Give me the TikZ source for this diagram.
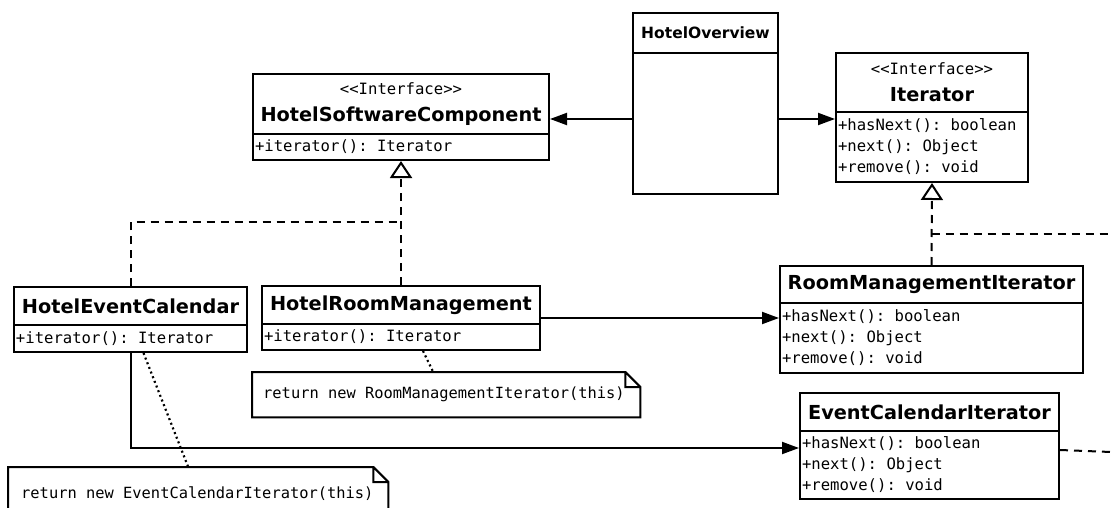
\documentclass[tikz,border=0pt]{standalone}
\usepackage{fontspec}
\newfontfamily\umlsans{DejaVu Sans}
\newfontfamily\umlmono{DejaVu Sans Mono}
\usepackage{tikz}
\usetikzlibrary{arrows.meta,positioning}

\begin{document}
\begin{tikzpicture}[x=1pt,y=-1pt,
    box/.style={draw,line width=2pt,anchor=north west,inner sep=0pt},
    title/.style={box,font=\umlsans\bfseries\fontsize{19.3}{23}\selectfont,align=center},
    monospace/.style={execute at begin node={\frenchspacing\spaceskip=0.602em\xspaceskip=0.602em}},
    ops/.style={box,monospace,font=\umlmono\fontsize{15.6}{21}\selectfont,align=left,inner xsep=2pt},
    note/.style={monospace,anchor=north west,inner xsep=11pt,inner ysep=0pt,align=left,font=\umlmono\fontsize{15.4}{19}\selectfont},
    assoc/.style={line width=2pt,-{Triangle[length=17pt,width=12pt]}},
    real/.style={line width=2pt,dash pattern=on 8pt off 6pt},
    realize/.style={real,-{Triangle[open,length=17pt,width=22pt,fill=white,line width=2pt]}},
    noteline/.style={line width=2.2pt,dash pattern=on 2pt off 3pt}]
    \useasboundingbox (0,0) rectangle (1111,508);

    % interfaces
    \node[title,minimum width=296pt,minimum height=60pt] (hscT) at (252,73)
        {{\umlmono\mdseries\fontsize{15.6}{18}\selectfont <<Interface>>}\\[4pt]HotelSoftwareComponent};
    \node[ops,text width=292pt,minimum height=26pt] (hscOps) at (252,133) {+iterator(): Iterator};

    \node[title,minimum width=192pt,minimum height=59pt] (iterT) at (835,52)
        {{\umlmono\mdseries\fontsize{15.6}{18}\selectfont <<Interface>>}\\[4pt]Iterator};
    \node[ops,text width=188pt,minimum height=70pt] (iterOps) at (835,111)
        {+hasNext(): boolean\\+next(): Object\\+remove(): void};

    % client
    \node[title,font=\umlsans\bfseries\fontsize{15.5}{19}\selectfont,minimum width=145pt,minimum height=40pt] (ovT) at (632,12) {HotelOverview};
    \node[box,minimum width=145pt,minimum height=141pt] (ovBody) at (632,52) {};

    % concrete components
    \node[title,minimum width=233pt,minimum height=38pt] (hecT) at (13,286) {HotelEventCalendar};
    \node[ops,text width=229pt,minimum height=27pt] (hecOps) at (13,324) {+iterator(): Iterator};

    \node[title,minimum width=278pt,minimum height=38pt] (hrmT) at (261,285) {HotelRoomManagement};
    \node[ops,text width=274pt,minimum height=26pt] (hrmOps) at (261,323) {+iterator(): Iterator};

    % concrete iterators
    \node[title,minimum width=303pt,minimum height=37pt] (rmiT) at (779,265) {RoomManagementIterator};
    \node[ops,text width=299pt,minimum height=70pt] (rmiOps) at (779,302)
        {+hasNext(): boolean\\+next(): Object\\+remove(): void};

    \node[title,minimum width=259pt,minimum height=38pt] (eciT) at (799,392) {EventCalendarIterator};
    \node[ops,text width=255pt,minimum height=68pt] (eciOps) at (799,430)
        {+hasNext(): boolean\\+next(): Object\\+remove(): void};

    % notes
    \node[note,text width=366pt,minimum height=45pt] (noteR) at (252,372) {return new RoomManagementIterator(this)};
    \node[note,inner xsep=13pt,text width=354pt,minimum height=52pt] (noteE) at (8,467) {return new EventCalendarIterator(this)};
    \foreach \n in {noteR,noteE}
        \draw[line width=2pt] (\n.north west) -- ([xshift=-15pt]\n.north east) -- ([yshift=-15pt]\n.north east)
            -- (\n.south east) -- (\n.south west) -- cycle
            ([xshift=-15pt]\n.north east) |- ([yshift=-15pt]\n.north east);

    % connectors
    \draw[assoc] (ovBody.west |- 0,119) -- (hscT.east |- 0,119);
    \draw[assoc] (ovBody.east |- 0,119) -- (iterOps.west |- 0,119);
    \draw[realize] (hrmT.north) -- (hscOps.south);
    \draw[real] (hecT.north) |- (hrmT.north |- 0,222);
    \draw[realize] (rmiT.north) -- (iterOps.south);
    \coordinate (offA) at (1111,234);
    \coordinate (offB) at (1111,452);
    \draw[real] (rmiT.north |- offA) -- (offA);
    \draw[real] (eciOps.east |- 0,450) -- (offB);
    \draw[assoc] (hrmT.east |- 0,318) -- (rmiOps.west |- 0,318);
    \draw[assoc] (hecOps.south) |- (eciOps.west |- 0,448);
    \draw[noteline] ([xshift=13pt]hecOps.south) -- ([xshift=-10pt]noteE.north);
    \draw[noteline] ([xshift=22pt]hrmOps.south) -- ([xshift=-13pt]noteR.north);
\end{tikzpicture}
\end{document}
